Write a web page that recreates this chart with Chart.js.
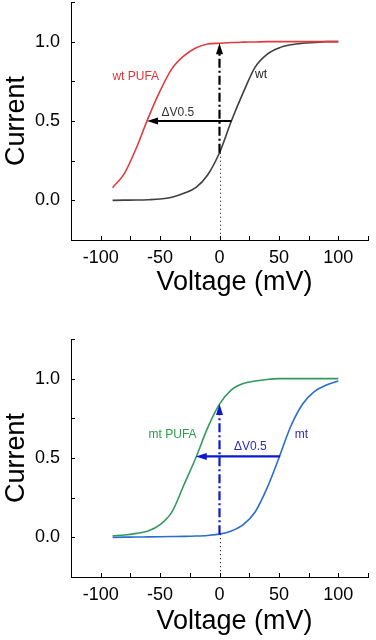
<!DOCTYPE html>
<html>
<head>
<meta charset="utf-8">
<script src="https://cdn.jsdelivr.net/npm/chart.js@4"></script>
<style>
  html, body { margin: 0; padding: 0; background: #fff; }
  .box { width: 376px; height: 320px; position: relative; }
  canvas { display: block; }
</style>
</head>
<body>
<div class="box"><canvas id="c1" width="376" height="320"></canvas></div>
<div class="box"><canvas id="c2" width="376" height="320"></canvas></div>
<script>
// ---- data ----
const voltage = [-90, -80, -70, -60, -50, -40, -30, -20, -10, 0, 10, 20, 30, 40, 50, 60, 70, 80, 90, 100];
const wt      = [0.0, 0.001, 0.002, 0.004, 0.008, 0.02, 0.045, 0.08, 0.16, 0.30, 0.50, 0.68, 0.84, 0.92, 0.96, 0.98, 0.99, 0.995, 1.0, 1.0];
const wtPufa  = [0.08, 0.17, 0.33, 0.52, 0.69, 0.83, 0.91, 0.96, 0.985, 0.99, 0.995, 0.997, 0.998, 1.0, 1.0, 1.0, 1.0, 1.0, 1.0, 1.0];
const mt      = [0.0, 0.001, 0.002, 0.003, 0.004, 0.005, 0.006, 0.008, 0.012, 0.02, 0.04, 0.08, 0.16, 0.31, 0.50, 0.70, 0.84, 0.92, 0.96, 0.985];
const mtPufa  = [0.01, 0.015, 0.025, 0.04, 0.08, 0.16, 0.33, 0.50, 0.69, 0.84, 0.93, 0.97, 0.985, 0.995, 1.0, 1.0, 1.0, 1.0, 1.0, 1.0];

const xTicks = [-100, -50, 0, 50, 100];
const yTicks = [0.0, 0.5, 1.0];
const xMinorTicks = [-125, -100, -75, -50, -25, 0, 25, 50, 75, 100, 125];
const yMinorTicks = [-0.25, 0, 0.25, 0.5, 0.75, 1.0, 1.25];

// annotations: [fromV, toV, atCurrent]
const topShift = [10, -61, 0.5];
const botShift = [51, -20, 0.51];
// vertical arrow at 0 mV: [voltage, fromCurrent, toCurrent]
const topRise = [0, 0.30, 0.99];
const botRise = [0, 0.02, 0.84];
// labels: [text, voltage, current]
const topLabels = [['wt PUFA', -70.5, 0.78], ['wt', 35, 0.79], ['\u0394V0.5', -35, 0.55]];
const botLabels = [['mt PUFA', -39.5, 0.65], ['mt', 69, 0.65], ['\u0394V0.5', 26, 0.57]];

const FONT = '"Liberation Sans", Arial, sans-serif';

function pts(ys) { return voltage.map((v, i) => ({ x: v, y: ys[i] })); }

function annotPlugin(cfg) {
  return {
    id: 'annot',
    afterDatasetsDraw(chart) {
      const ctx = chart.ctx;
      const xs = chart.scales.x, ys = chart.scales.y;
      const X = v => xs.getPixelForValue(v), Y = v => ys.getPixelForValue(v);
      const ca = chart.chartArea;
      ctx.save();
      // inward minor ticks
      ctx.strokeStyle = '#000'; ctx.lineWidth = 1; ctx.setLineDash([]);
      ctx.beginPath();
      xMinorTicks.forEach(v => { const px = Math.round(X(v)) + 0.5; ctx.moveTo(px, ca.bottom); ctx.lineTo(px, ca.bottom - 4); });
      yMinorTicks.forEach(v => { const py = Math.round(Y(v)) + 0.5; ctx.moveTo(ca.left, py); ctx.lineTo(ca.left + 4, py); });
      ctx.stroke();

      // dotted line below rise start
      const r = cfg.rise;
      ctx.strokeStyle = '#000'; ctx.lineWidth = 1; ctx.setLineDash([1, 3]);
      ctx.beginPath();
      ctx.moveTo(Math.round(X(r[0])) + 0.5, Y(r[1]));
      ctx.lineTo(Math.round(X(r[0])) + 0.5, Y(ys.min));
      ctx.stroke();

      // dash-dot vertical arrow
      const ax = X(r[0]);
      const tipY = Y(r[2]);
      ctx.strokeStyle = cfg.arrowColor; ctx.fillStyle = cfg.arrowColor;
      ctx.lineWidth = 2.2; ctx.setLineDash([9, 3, 2, 3]);
      ctx.beginPath(); ctx.moveTo(ax, Y(r[1])); ctx.lineTo(ax, tipY + 8); ctx.stroke();
      ctx.setLineDash([]);
      ctx.beginPath(); ctx.moveTo(ax, tipY); ctx.lineTo(ax - 3.5, tipY + 11); ctx.lineTo(ax + 3.5, tipY + 11); ctx.closePath(); ctx.fill();

      // horizontal arrow
      const s = cfg.shift;
      const hy = Y(s[2]);
      const tipX = X(s[1]);
      ctx.lineWidth = 2.2;
      ctx.beginPath(); ctx.moveTo(X(s[0]), hy); ctx.lineTo(tipX + 6, hy); ctx.stroke();
      ctx.beginPath(); ctx.moveTo(tipX, hy); ctx.lineTo(tipX + 11, hy - 3.5); ctx.lineTo(tipX + 11, hy + 3.5); ctx.closePath(); ctx.fill();

      // labels
      ctx.font = '12px ' + FONT;
      ctx.textAlign = 'center'; ctx.textBaseline = 'middle';
      cfg.labels.forEach((l, i) => { ctx.fillStyle = cfg.labelColors[i]; ctx.fillText(l[0], X(l[1]), Y(l[2])); });

      // x axis title
      ctx.fillStyle = '#000';
      ctx.font = '27px ' + FONT;
      ctx.fillText('Voltage (mV)', (ca.left + ca.right) / 2 + 15, cfg.xTitleY);
      ctx.restore();
    }
  };
}

function makeChart(id, series, cfg) {
  return new Chart(document.getElementById(id), {
    type: 'line',
    data: {
      datasets: series.map(s => ({
        data: pts(s.values), borderColor: s.color, borderWidth: 1.6,
        pointRadius: 0, cubicInterpolationMode: 'monotone', fill: false
      }))
    },
    options: {
      responsive: false, animation: false,
      layout: { padding: { top: cfg.padTop, right: 8, left: 0, bottom: 0 } },
      plugins: { legend: { display: false }, tooltip: { enabled: false } },
      scales: {
        x: {
          type: 'linear', min: -125, max: 125,
          afterFit: sc => { sc.height = cfg.xHeight; sc.paddingLeft = 0; sc.paddingRight = 0; },
          afterBuildTicks: sc => { sc.ticks = xTicks.map(v => ({ value: v })); },
          grid: { drawOnChartArea: false, drawTicks: false },
          border: { display: true, color: '#000', width: 1 },
          ticks: { padding: 7, color: '#000', font: { size: 18, family: FONT }, maxRotation: 0 },
          title: { display: false }
        },
        y: {
          type: 'linear', min: -0.25, max: 1.25,
          afterFit: sc => { sc.width = 71; sc.paddingTop = 0; sc.paddingBottom = 0; },
          afterBuildTicks: sc => { sc.ticks = yTicks.map(v => ({ value: v })); },
          grid: { drawOnChartArea: false, drawTicks: false },
          border: { display: true, color: '#000', width: 1 },
          ticks: { padding: 11, color: '#000', font: { size: 18, family: FONT }, callback: v => Number(v).toFixed(1) },
          title: { display: true, text: 'Current', color: '#000', font: { size: 27, family: FONT }, padding: { top: 0, bottom: 0 } }
        }
      }
    },
    plugins: [annotPlugin(cfg)]
  });
}

makeChart('c1', [
  { values: wtPufa, color: '#e23b3f' },
  { values: wt, color: '#3f3f3f' }
], {
  padTop: 2, xHeight: 80, xTitleY: 283,
  shift: topShift, rise: topRise, arrowColor: '#000',
  labels: topLabels, labelColors: ['#e0343a', '#222', '#333']
});

makeChart('c2', [
  { values: mtPufa, color: '#35985f' },
  { values: mt, color: '#2a6dcf' }
], {
  padTop: 19, xHeight: 63, xTitleY: 302,
  shift: botShift, rise: botRise, arrowColor: '#0a18d0',
  labels: botLabels, labelColors: ['#2e9a4a', '#2b2bb8', '#2b2bb8']
});
</script>
</body>
</html>
